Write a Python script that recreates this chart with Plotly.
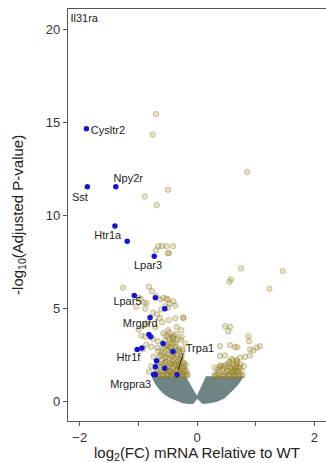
import plotly.graph_objects as go

# ---- data ----
# non-significant cloud outline (log2FC, -log10 padj)
ns_x = [-0.76, -0.70, -0.63, -0.55, -0.46, -0.35, -0.24, -0.15, -0.07, 0.0, 0.10, 0.22, 0.34, 0.46, 0.56, 0.66, 0.73, 0.77,
        0.16, 0.0, -0.20, -0.76]
ns_y = [1.32, 0.95, 0.65, 0.40, 0.22, 0.07, -0.05, -0.10, -0.10, 0.20, -0.10, -0.05, 0.02, 0.20, 0.48, 0.80, 1.08, 1.32,
        1.32, 0.22, 1.32, 1.32]

sig_x = [-0.70, -0.755, 0.857, -0.494, -0.89, -0.687, -0.66, -0.60, -0.52, -0.41, -0.70, -0.48, -0.495,
         -1.263, -0.819, -0.768, -0.961, -0.904, -1.035, -0.882, -0.694, -0.620, -0.518, -0.466, -0.404, -0.370,
         -0.495, -0.609, -0.751, -0.678, -0.637, -0.836, -0.904, -0.711, -0.597, -0.483, -0.370, -0.239, -0.347,
         -0.495, -0.575, -0.268, -0.392, -0.995, -0.950, -0.882, -0.751, -0.495, -0.666, -0.865, -0.780, -0.922,
         -0.678, -0.507, -0.278, -0.200, -0.239, -0.439, -1.0, -0.86, -0.575, -0.49, -0.546, -0.23, -0.43, -0.26,
         -0.72, -0.66, -0.60, -0.55, -0.50, -0.45, -0.40, -0.35, -0.30, -0.25, -0.20, -0.16,
         -0.70, -0.63, -0.57, -0.52, -0.47, -0.42, -0.37, -0.32, -0.27, -0.22,
         -0.68, -0.60, -0.54, -0.48, -0.43, -0.38, -0.33, -0.28, -0.24,
         -0.62, -0.56, -0.50, -0.45, -0.40, -0.35, -0.30, -0.26,
         -0.58, -0.52, -0.46, -0.41, -0.36, -0.31,
         -0.74, -0.78, -0.82, -0.66, -0.55, -0.47, -0.40, -0.34,
         -0.65, -0.58, -0.50, -0.44, -0.38, -0.32, -0.27, -0.21, -0.18,
         -0.52, -0.46, -0.40, -0.34, -0.29, -0.44, -0.38, -0.30, -0.23,
         -0.69, -0.63, -0.57, -0.51, -0.45, -0.39, -0.33, -0.27, -0.22, -0.17,
         -0.67, -0.61, -0.55, -0.49, -0.43, -0.37, -0.31, -0.25, -0.19,
         -0.64, -0.58, -0.52, -0.46, -0.40, -0.34, -0.28, -0.22,
         -0.60, -0.54, -0.48, -0.42, -0.36, -0.30, -0.25,
         -0.56, -0.49, -0.43, -0.37, -0.32,
         -0.53, -0.47, -0.41, -0.35,
         0.751, 1.462, 0.580, 0.552, 1.234, 0.478, 0.563, 0.535, 0.876, 0.887, 1.075, 0.392, 0.563, 0.648, 0.688,
         0.904, 0.961, 1.018, 0.392, 0.478, 0.592, 0.677, 0.734, 0.819, 0.904, 0.307, 0.421,
         0.30, 0.36, 0.42, 0.48, 0.54, 0.60, 0.66, 0.72, 0.78,
         0.35, 0.44, 0.52, 0.58, 0.64, 0.70, 0.76,
         0.40, 0.50, 0.56, 0.62, 0.68, 0.74, 0.80,
         0.33, 0.46, 0.55, 0.63, 0.71,
         0.58, 0.64, 0.70, 0.66,
         0.31, 0.38, 0.45, 0.51, 0.57, 0.63, 0.69, 0.75,
         0.39, 0.47, 0.53, 0.60, 0.67, 0.73,
         0.55, 0.61, 0.68]
sig_y = [15.45, 14.35, 12.35, 11.38, 11.02, 10.55, 8.35, 8.35, 8.35, 8.35, 8.13, 7.99, 7.96,
         6.11, 6.17, 5.93, 5.52, 5.31, 5.09, 4.98, 5.66, 5.48, 5.52, 5.27, 5.38, 5.16,
         5.04, 4.95, 4.77, 4.68, 4.50, 4.26, 4.09, 4.01, 4.26, 4.37, 4.48, 4.50, 4.01,
         3.83, 3.66, 3.83, 3.55, 3.87, 3.55, 3.48, 3.37, 3.48, 3.24, 3.06, 2.94, 2.80,
         2.89, 2.97, 3.33, 3.12, 2.80, 3.16, 5.57, 5.30, 5.57, 5.48, 5.12, 4.50, 3.48, 3.48,
         1.45, 1.50, 1.42, 1.60, 1.48, 1.55, 1.45, 1.62, 1.50, 1.42, 1.55, 1.45,
         1.75, 1.85, 1.95, 1.80, 1.90, 1.78, 1.95, 1.85, 1.75, 1.90,
         2.10, 2.25, 2.15, 2.30, 2.20, 2.35, 2.15, 2.25, 2.10,
         2.50, 2.60, 2.55, 2.70, 2.60, 2.50, 2.65, 2.45,
         2.85, 3.00, 2.90, 3.10, 2.95, 2.85,
         2.40, 1.90, 1.60, 2.70, 3.25, 3.35, 3.40, 3.30,
         1.38, 1.36, 1.40, 1.37, 1.35, 1.39, 1.36, 1.40, 1.65,
         1.50, 1.62, 1.55, 1.70, 1.58, 2.00, 2.05, 1.98, 1.78,
         1.55, 1.40, 1.68, 1.38, 1.66, 1.36, 1.70, 1.35, 1.68, 1.38,
         1.98, 1.70, 2.05, 1.66, 2.02, 1.68, 2.00, 1.65, 1.98,
         2.38, 2.05, 2.40, 2.08, 2.45, 2.02, 2.38, 2.05,
         2.65, 2.35, 2.75, 2.40, 2.80, 2.30, 2.70,
         2.95, 3.10, 2.80, 3.15, 2.75,
         3.55, 3.70, 3.40, 3.62,
         7.15, 7.01, 6.56, 6.43, 6.06, 4.05, 4.01, 3.78, 3.51, 3.24, 2.97, 2.97, 3.03, 2.92, 2.92,
         2.80, 2.74, 2.89, 2.44, 2.47, 2.29, 2.17, 2.35, 2.40, 2.47, 1.81, 1.90,
         1.45, 1.50, 1.42, 1.55, 1.45, 1.50, 1.42, 1.48, 1.40,
         1.70, 1.75, 1.68, 1.80, 1.72, 1.85, 1.65,
         1.95, 2.00, 2.05, 1.95, 2.05, 2.00, 1.90,
         1.36, 1.38, 1.35, 1.37, 1.39,
         1.60, 1.55, 1.62, 1.85,
         1.38, 1.62, 1.36, 1.64, 1.38, 1.66, 1.60, 1.36,
         1.85, 1.88, 1.90, 1.78, 1.90, 1.80,
         2.15, 2.20, 2.22]

hl_x = [-1.886, -1.87, -1.385, -1.40, -1.19, -0.73, -1.07, -0.71, -0.55, -0.80, -0.82, -0.79, -0.58, -0.41,
        -1.02, -0.94, -0.69, -0.71, -0.55, -0.74, -0.71, -0.34]
hl_y = [14.66, 11.54, 11.54, 9.43, 8.62, 7.81, 5.70, 5.57, 4.98, 4.52, 3.60, 3.48, 3.12, 2.69,
        2.80, 2.87, 2.19, 1.87, 1.79, 1.45, 1.45, 1.43]

label_text = ["Il31ra", "Cysltr2", "Npy2r", "Sst", "Htr1a", "Lpar3", "Lpar5", "Mrgprd", "Htr1f", "Mrgpra3", "Trpa1"]
label_x = [-1.923, -1.519, -1.172, -1.997, -1.522, -0.836, -1.186, -0.969, -1.169, -1.131, 0.051]
label_y = [20.54, 14.53, 11.94, 10.91, 8.87, 7.27, 5.34, 4.14, 2.30, 0.86, 2.80]
trpa1_line_x = [-0.234, -0.319]
trpa1_line_y = [2.58, 1.72]

x_ticks = [-2, 0, 2]
x_minor_ticks = [-1, 1]
y_ticks = [0, 5, 10, 15, 20]

FONT = "Liberation Sans, Arial, sans-serif"

fig = go.Figure()
fig.add_trace(go.Scatter(x=ns_x, y=ns_y, mode="lines", fill="toself", fillcolor="#6f8585",
                         line=dict(color="#6f8585", width=1.5), hoverinfo="skip", showlegend=False))
fig.add_trace(go.Scatter(x=sig_x, y=sig_y, mode="markers", showlegend=False,
                         marker=dict(size=5.5, color="rgba(160,140,45,0.26)",
                                     line=dict(color="rgba(140,122,35,0.38)", width=1))))
fig.add_trace(go.Scatter(x=hl_x, y=hl_y, mode="markers", showlegend=False,
                         marker=dict(size=5.5, color="#1414d8")))
fig.add_trace(go.Scatter(x=trpa1_line_x, y=trpa1_line_y, mode="lines", showlegend=False,
                         line=dict(color="#222", width=1)))
fig.add_trace(go.Scatter(x=label_x, y=label_y, mode="text", text=label_text, showlegend=False,
                         textfont=dict(family=FONT, size=11, color="#222")))

axis_common = dict(showgrid=False, zeroline=False, showline=True, linecolor="#555", linewidth=1.2,
                   ticks="outside", ticklen=4, tickcolor="#555",
                   tickfont=dict(family=FONT, size=13, color="#333"))
fig.update_xaxes(range=[-2.2, 2.2], tickvals=x_ticks, mirror=True,
                 minor=dict(tickvals=x_minor_ticks, ticks="outside", ticklen=4, tickcolor="#555", showgrid=False),
                 **axis_common)
fig.update_yaxes(range=[-1.05, 21.1], tickvals=y_ticks, **axis_common)

fig.add_annotation(text="log<sub>2</sub>(FC) mRNA Relative to WT", xref="paper", yref="paper",
                   x=0.5, y=-0.08, showarrow=False, yanchor="middle",
                   font=dict(family=FONT, size=15, color="#222"))
fig.add_annotation(text="-log<sub>10</sub>(Adjusted P-value)", xref="paper", yref="paper",
                   x=-0.194, y=0.5, showarrow=False, textangle=-90, xanchor="center",
                   font=dict(family=FONT, size=15, color="#222"))

fig.update_layout(width=326, height=463, margin=dict(l=68, r=0, t=9, b=42),
                  plot_bgcolor="white", paper_bgcolor="white", hovermode=False)
fig.write_html("out.html", config={"displayModeBar": False},
               post_script="document.body.style.margin='0';document.body.style.overflow='hidden';")
